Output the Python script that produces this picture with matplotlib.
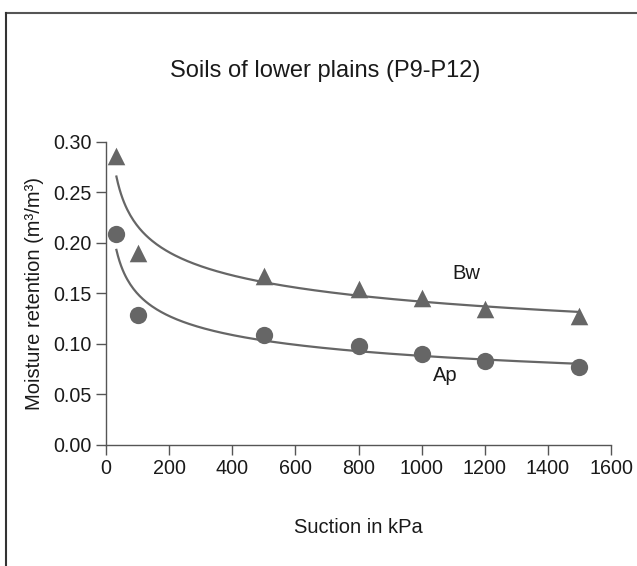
import numpy as np
import matplotlib
matplotlib.use("Agg")
import matplotlib.pyplot as plt
from matplotlib.lines import Line2D

plt.rcParams['font.family'] = ['Liberation Sans', 'DejaVu Sans']

suction = [33, 100, 500, 800, 1000, 1200, 1500]
bw_values = [0.286, 0.190, 0.167, 0.154, 0.145, 0.135, 0.128]
ap_values = [0.209, 0.129, 0.109, 0.098, 0.090, 0.083, 0.077]
x_ticks = [0, 200, 400, 600, 800, 1000, 1200, 1400, 1600]
y_ticks = [0.00, 0.05, 0.10, 0.15, 0.20, 0.25, 0.30]

col = '#666666'

fig = plt.figure(figsize=(6.37, 5.66), dpi=100)
ax = fig.add_axes([0.1664, 0.2138, 0.9592 - 0.1664, 0.7496 - 0.2138])

xs = np.array(suction, dtype=float)
xf = np.linspace(33, 1500, 300)
for vals in (bw_values, ap_values):
    b, a = np.polyfit(np.log(xs), np.log(vals), 1)
    ax.plot(xf, np.exp(a) * xf ** b, color=col, lw=1.6, zorder=2)

ax.scatter(suction, bw_values, marker='^', s=160, color=col, zorder=3, linewidths=0)
ax.scatter(suction, ap_values, marker='o', s=155, color=col, zorder=3, linewidths=0)

ax.text(1141, 0.170, 'Bw', fontsize=14.5, color='#1a1a1a', ha='center', va='center')
ax.text(1074, 0.069, 'Ap', fontsize=14.5, color='#1a1a1a', ha='center', va='center')

ax.set_xlim(0, 1600)
ax.set_ylim(0, 0.30)
ax.set_xticks(x_ticks)
ax.set_yticks(y_ticks)
ax.set_xticklabels([str(t) for t in x_ticks])
ax.set_yticklabels([f'{t:.2f}' for t in y_ticks])
for s in ('top', 'right'):
    ax.spines[s].set_visible(False)
for s in ('left', 'bottom'):
    ax.spines[s].set_color('#555555')
    ax.spines[s].set_linewidth(1.0)
ax.tick_params(direction='out', length=7, width=1.0, color='#555555',
               labelsize=14.2, labelcolor='#1a1a1a', pad=3)

ax.set_xlabel('Suction in kPa', fontsize=14.5, color='#1a1a1a', labelpad=29)
ax.set_ylabel('Moisture retention (m\u00b3/m\u00b3)', fontsize=14.5, color='#1a1a1a', labelpad=7)

fig.text(0.5 * (168 + 482) / 637, 1 - 71 / 566, 'Soils of lower plains (P9-P12)',
         fontsize=17, color='#1a1a1a', ha='center', va='center')

# partial frame (top and left edges)
fig.add_artist(Line2D([6 / 637, 1.0], [1 - 13 / 566, 1 - 13 / 566],
                      transform=fig.transFigure, color='#555555', lw=1.5))
fig.add_artist(Line2D([6 / 637, 6 / 637], [0.0, 1 - 13 / 566],
                      transform=fig.transFigure, color='#333333', lw=1.5))

fig.savefig('out.png', dpi=100)
